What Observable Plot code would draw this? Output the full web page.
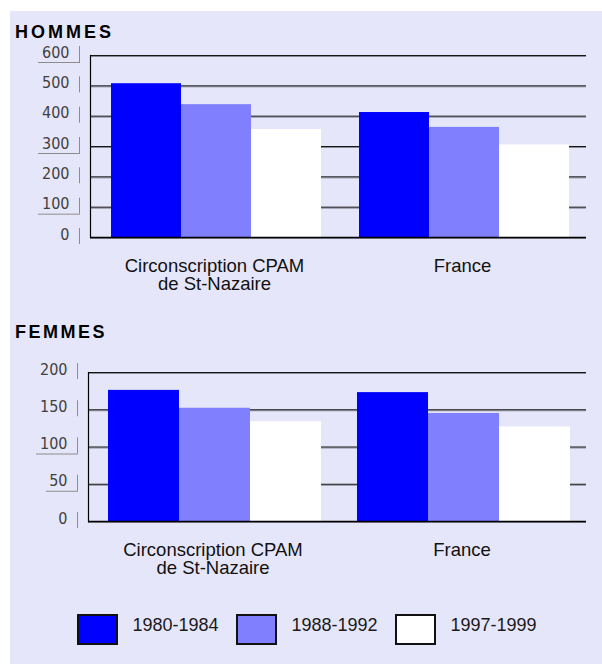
<!DOCTYPE html>
<html><head><meta charset="utf-8">
<script src="https://cdn.jsdelivr.net/npm/d3@7"></script>
<script src="https://cdn.jsdelivr.net/npm/@observablehq/plot@0.6"></script>
<style>
html,body{margin:0;padding:0;background:#fff;}
#root{position:relative;width:602px;height:664px;overflow:hidden;font-family:"Liberation Sans",Arial,sans-serif;}
#bg{position:absolute;left:10px;top:11px;right:0;bottom:0;background:#E6E6FA;}
.title{position:absolute;left:15px;font-weight:bold;font-size:18px;line-height:18px;color:#000;white-space:nowrap;}
.chart{position:absolute;left:0;}
.lg-box{position:absolute;box-sizing:border-box;width:41px;height:31px;border:2.5px solid #111;top:614px;}
.lg-label{position:absolute;top:615.5px;font-size:18px;line-height:18px;color:#1a1a1a;white-space:nowrap;}
</style></head>
<body><div id="root"><div id="bg"></div></div>
<script>
// ---- data ----
const groups = ["Circonscription CPAM\nde St-Nazaire", "France"];
const periods = ["1980-1984", "1988-1992", "1997-1999"];
const colors = ["#0000FF", "#8080FF", "#FFFFFF"];
const hommesCirc = [507, 438, 356];
const hommesFrance = [412, 363, 305];
const femmesCirc = [176, 152, 134];
const femmesFrance = [173, 145, 127];
const hommesTicks = [0, 100, 200, 300, 400, 500, 600];
const femmesTicks = [0, 50, 100, 150, 200];
const hommesUnderlined = [600, 300, 100];
const femmesUnderlined = [100, 50];

const root = document.getElementById("root");

function rows(circ, france) {
  const out = [];
  periods.forEach((p, i) => {
    out.push({group: groups[0], period: p, value: circ[i]});
    out.push({group: groups[1], period: p, value: france[i]});
  });
  return out;
}

function title(text, top, spacing) {
  const d = document.createElement("div");
  d.className = "title";
  d.style.top = top + "px";
  d.style.letterSpacing = spacing + "px";
  d.textContent = text;
  root.appendChild(d);
}

function makeChart({data, ticks, top, height, marginTop, marginBottom, marginLeft, underlined}) {
  const chart = Plot.plot({
    width: 602,
    height,
    marginLeft,
    marginRight: 16,
    marginTop,
    marginBottom,
    style: {background: "transparent", overflow: "visible", fontFamily: "Liberation Sans, Arial, sans-serif"},
    fx: {domain: groups, padding: 0, label: null},
    x: {domain: periods, paddingInner: 0, paddingOuter: 0.25, align: 0.55, axis: null},
    y: {domain: [ticks[0], ticks[ticks.length - 1]], axis: null},
    color: {domain: periods, range: colors},
    marks: [
      Plot.ruleY(ticks, {y: d => d, dy: 1, stroke: "#8a8a98"}),
      Plot.ruleY(ticks, {y: d => d, stroke: "#151515"}),
      Plot.barY(data, {fx: "group", x: "period", y: "value", fill: "period"}),
      Plot.ruleY([0], {stroke: "#000", strokeWidth: 1.5}),
      Plot.frame({anchor: "left", facetAnchor: "left", stroke: "#000", strokeWidth: 1.2}),
      Plot.axisY({ticks, anchor: "left", tickSize: 0, tickPadding: 21, dy: -3,
        fontSize: 16, fontFamily: "DejaVu Sans Condensed, Liberation Sans Narrow, sans-serif",
        fill: "#404040", letterSpacing: 0.5, label: null}),
      Plot.axisFx({anchor: "bottom", tickSize: 0, tickPadding: 22, fontSize: 18.5,
        lineHeight: 0.97, fill: "#111", label: null})
    ]
  });
  chart.classList.add("chart");
  chart.style.top = top + "px";
  root.appendChild(chart);

  // small vertical marks and underlines beside the y tick labels
  const y = chart.scale("y");
  const g = d3.select(chart).append("g").attr("stroke", "#8c8c8c").attr("stroke-width", 1);
  for (const t of ticks) {
    const yy = y.apply(t);
    const xb = marginLeft - 10 + 0.5;
    g.append("line").attr("x1", xb).attr("x2", xb).attr("y1", yy - 9).attr("y2", yy + 7);
    if (underlined.includes(t)) {
      const len = String(t).length;
      g.append("line")
        .attr("x1", marginLeft - 21 - 10 * len)
        .attr("x2", marginLeft - 9)
        .attr("y1", yy + 7.5).attr("y2", yy + 7.5);
    }
  }
  return chart;
}

title("HOMMES", 22.5, 3);
makeChart({data: rows(hommesCirc, hommesFrance), ticks: hommesTicks, top: 0, height: 300,
  marginTop: 55, marginBottom: 63, marginLeft: 89, underlined: hommesUnderlined});

title("FEMMES", 322.5, 2.5);
makeChart({data: rows(femmesCirc, femmesFrance), ticks: femmesTicks, top: 310, height: 275,
  marginTop: 62, marginBottom: 64, marginLeft: 87, underlined: femmesUnderlined});

// legend
periods.forEach((p, i) => {
  const b = document.createElement("div");
  b.className = "lg-box";
  b.style.left = (77 + i * 159) + "px";
  b.style.background = colors[i];
  root.appendChild(b);
  const l = document.createElement("div");
  l.className = "lg-label";
  l.style.left = (132.5 + i * 159) + "px";
  l.textContent = p;
  root.appendChild(l);
});
</script>
</body></html>
